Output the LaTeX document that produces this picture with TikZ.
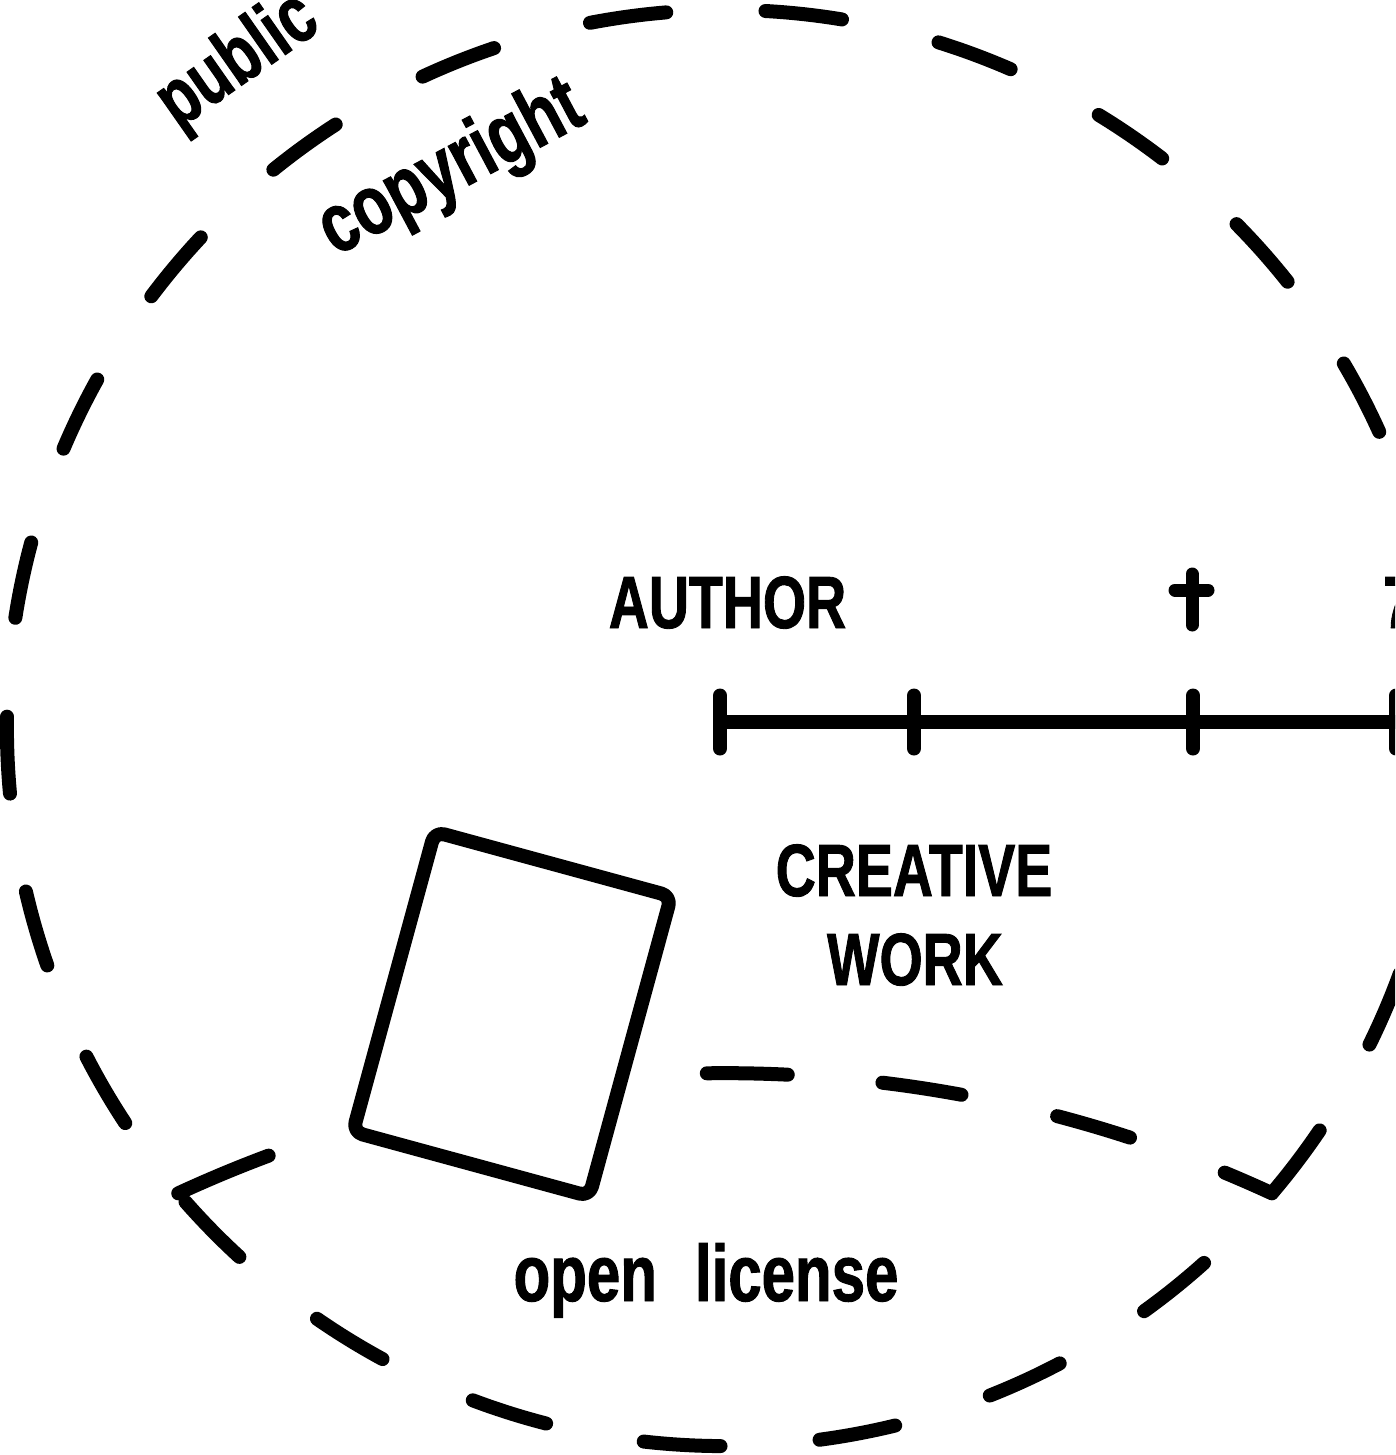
\documentclass[tikz,border=0pt]{standalone}
\usepackage{fontspec}
\newfontfamily\dinfont{Liberation Sans}[FakeStretch=0.75, FakeBold=1.2]
\usetikzlibrary{calc}
\tikzset{
  stroke/.style={line width=14pt, line cap=round, line join=round},
  circdash/.style={stroke, dash pattern=on 77pt off 99.3pt},
  chorddash/.style={stroke, dash pattern=on 98pt off 448pt on 81pt off 95pt on 80pt off 98pt on 76pt off 101pt on 200pt off 100pt},
  caps/.style={font=\dinfont\bfseries\fontsize{74}{89}\selectfont, inner sep=0pt},
  lower/.style={font=\dinfont\bfseries\fontsize{80}{96}\selectfont, inner sep=0pt},
  workbox/.style={draw, fill=white, stroke, rounded corners=10pt, inner sep=0pt,
    minimum width=245pt, minimum height=311pt},
}
\begin{document}
\begin{tikzpicture}[x=1pt,y=1pt]
\useasboundingbox (0,0) rectangle (1395,-1455);
\clip (0,0) rectangle (1395,-1455);
% big dashed circle
\coordinate (C) at (725,-728);
\draw[circdash] ($(C)+(10.29:718)$) arc[start angle=10.29, end angle=370.29, radius=718];
% open licence chord
\coordinate (L) at ($(C)+(220.4:718)$);
\coordinate (R) at ($(C)+(319.6:718)$);
\draw[chorddash] (L) arc[start angle=114.79, end angle=65.21, radius=1304.3];
% creative work box
\node[workbox, rotate=-15.25] (work) at (512,-1014) {};
% timeline
\coordinate (t0) at (720,-722);
\coordinate (t1) at (914,-722);
\coordinate (t2) at (1193,-722);
\coordinate (t3) at (1396,-722);
\coordinate (tend) at (1430,-722);
\draw[stroke] (t0) -- (tend);
\foreach \t in {t0,t1,t2,t3}{
  \draw[stroke] ($(\t)+(0,26.5)$) -- ($(\t)+(0,-26.5)$);
}
% dagger
\coordinate (dtop) at (1192,-574);
\coordinate (dbot) at (1192,-625);
\coordinate (dl) at (1175,-590);
\coordinate (dr) at (1208,-590);
\draw[stroke, line width=13pt] (dtop) -- (dbot);
\draw[stroke, line width=13pt] (dl) -- (dr);
% labels
\node[caps, anchor=base] (author) at (727.5,-628) {AUTHOR};
\node[caps, anchor=base west] (seventy) at (1383,-628) {70};
\node[caps, anchor=base] (creative) at (914,-896) {CREATIVE};
\node[caps, anchor=base] (workl) at (915,-985) {WORK};
\node[lower, anchor=base] (open) at (706,-1301) {open\hspace{38pt}license};
\node[lower, font=\dinfont\bfseries\fontsize{84}{100}\selectfont, rotate=28] (copy) at (452,-170) {copyright};
\node[lower, rotate=35, anchor=base west] (pub) at (178,-130) {public\hspace{48pt}domain};
\end{tikzpicture}
\end{document}
